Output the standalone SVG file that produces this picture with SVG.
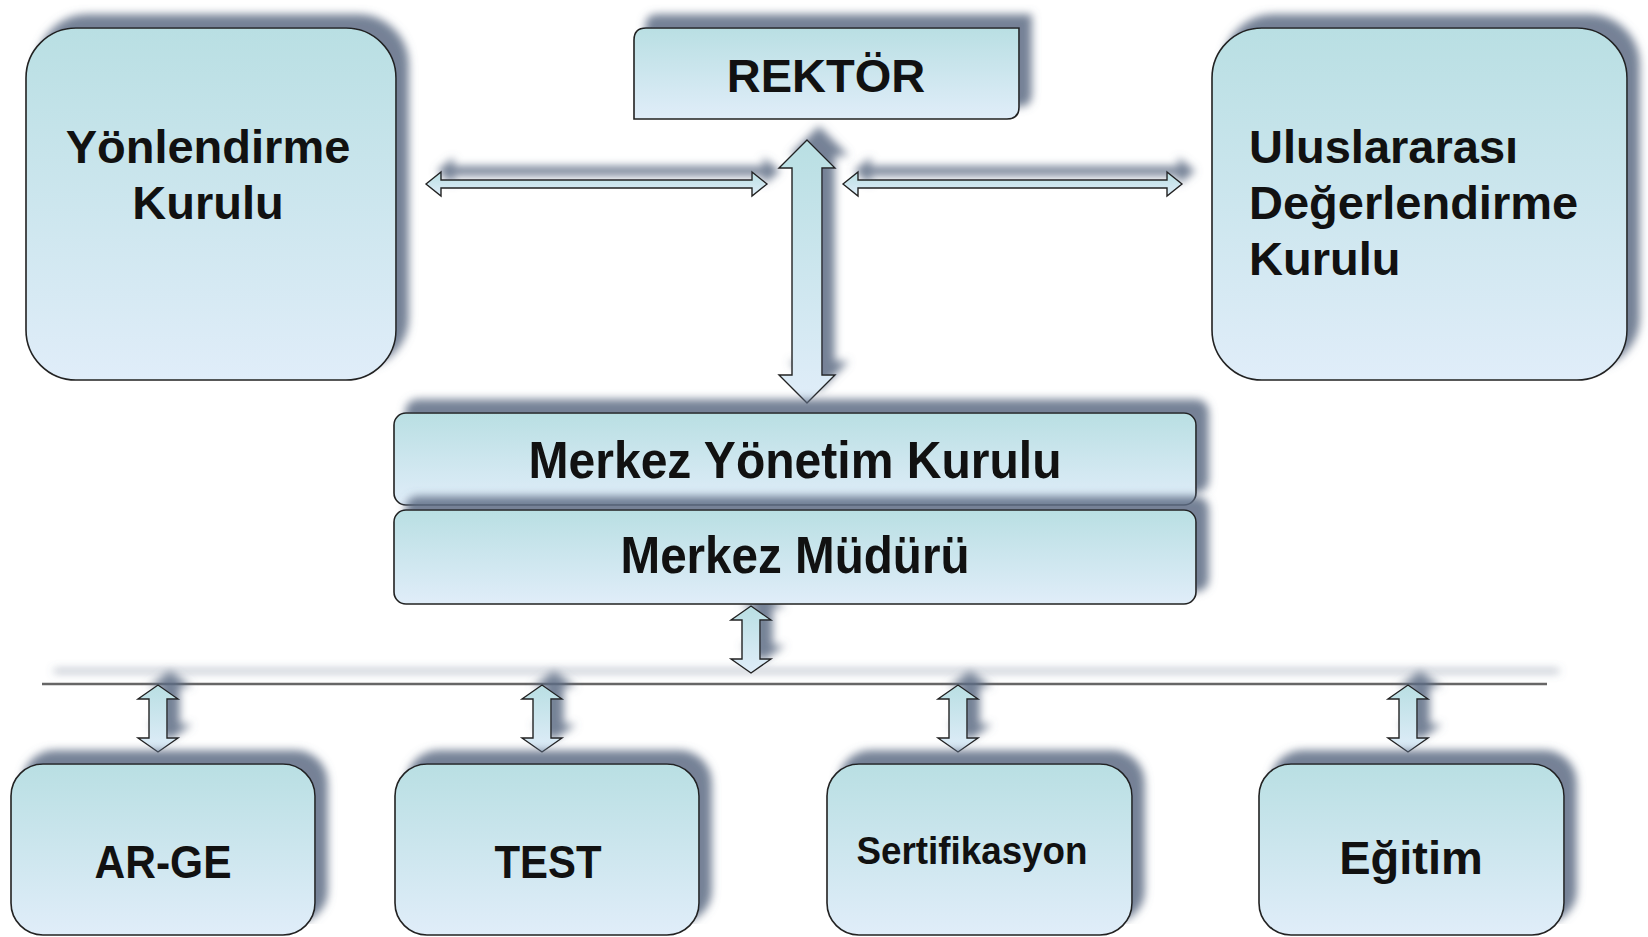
<svg xmlns="http://www.w3.org/2000/svg" width="1648" height="937" viewBox="0 0 1648 937">
<defs>
<linearGradient id="g" x1="0" y1="0" x2="0" y2="1">
<stop offset="0" stop-color="#b9dfe3"/>
<stop offset="1" stop-color="#e0edf9"/>
</linearGradient>
<filter id="sh" filterUnits="userSpaceOnUse" x="0" y="0" width="1648" height="937">
<feGaussianBlur in="SourceAlpha" stdDeviation="4" result="b"/>
<feOffset in="b" dx="12" dy="-13" result="o"/>
<feFlood flood-color="#5d6c84" flood-opacity="0.85"/>
<feComposite in2="o" operator="in" result="s"/>
<feMerge><feMergeNode in="s"/><feMergeNode in="SourceGraphic"/></feMerge>
</filter>
</defs>
<style>
.box{fill:url(#g);stroke:#222;stroke-width:1.6;filter:url(#sh)}
.arr{fill:url(#g);stroke:#222;stroke-width:1.4;stroke-linejoin:miter;filter:url(#sh)}
.t{font-family:"Liberation Sans",Arial,sans-serif;font-weight:bold;fill:#111}
.c{text-anchor:middle}
</style>
<rect width="1648" height="937" fill="#fff"/>

<g id="connectors">
<line x1="42" y1="684" x2="1547" y2="684" stroke="#666" stroke-width="2.5" filter="url(#sh)"/>
<!-- left horizontal double arrow -->
<path class="arr" d="M426,184 L441,172 L441,180 L752,180 L752,172 L767,184 L752,196 L752,188 L441,188 L441,196 Z"/>
<!-- right horizontal double arrow -->
<path class="arr" d="M843,184 L858,172 L858,180 L1167,180 L1167,172 L1182,184 L1167,196 L1167,188 L858,188 L858,196 Z"/>
<!-- big vertical double arrow -->
<path class="arr" d="M807,140 L835,168 L822,168 L822,375 L835,375 L807,403 L779,375 L792,375 L792,168 L779,168 Z"/>
<!-- Müdür to line -->
<path class="arr" d="M751,606 L771,620 L760,620 L760,659 L771,659 L751,673 L731,659 L742,659 L742,620 L731,620 Z"/>
<!-- bottom small arrows -->
<path class="arr" d="M158,685 L178,699 L167,699 L167,738 L178,738 L158,752 L138,738 L149,738 L149,699 L138,699 Z"/>
<path class="arr" d="M542,685 L562,699 L551,699 L551,738 L562,738 L542,752 L522,738 L533,738 L533,699 L522,699 Z"/>
<path class="arr" d="M958,685 L978,699 L967,699 L967,738 L978,738 L958,752 L938,738 L949,738 L949,699 L938,699 Z"/>
<path class="arr" d="M1408,685 L1428,699 L1417,699 L1417,738 L1428,738 L1408,752 L1388,738 L1399,738 L1399,699 L1388,699 Z"/>
</g>

<g id="yonlendirme">
<rect class="box" x="26" y="28" width="370" height="352" rx="50" ry="50"/>
<text class="t c" x="208" y="163" font-size="47">Yönlendirme</text>
<text class="t c" x="208" y="219" font-size="47">Kurulu</text>
</g>

<g id="rektor">
<path class="box" d="M646,28 L1019,28 L1019,107 Q1019,119 1007,119 L634,119 L634,40 Q634,28 646,28 Z"/>
<text class="t c" x="826" y="92" font-size="47">REKTÖR</text>
</g>

<g id="uluslararasi">
<rect class="box" x="1212" y="28" width="415" height="352" rx="50" ry="50"/>
<text class="t" x="1249" y="163" font-size="47">Uluslararası</text>
<text class="t" x="1249" y="219" font-size="47">Değerlendirme</text>
<text class="t" x="1249" y="275" font-size="47">Kurulu</text>
</g>

<g id="yonetim">
<rect class="box" x="394" y="413" width="802" height="92" rx="12" ry="12"/>
<text class="t c" x="795" y="478" font-size="52" textLength="533" lengthAdjust="spacingAndGlyphs">Merkez Yönetim Kurulu</text>
</g>

<g id="mudur">
<rect class="box" x="394" y="510" width="802" height="94" rx="12" ry="12"/>
<text class="t c" x="795" y="573" font-size="52" textLength="349" lengthAdjust="spacingAndGlyphs">Merkez Müdürü</text>
</g>

<g id="arge">
<rect class="box" x="11" y="764" width="304" height="171" rx="32" ry="32"/>
<text class="t c" x="163" y="878" font-size="46" textLength="137" lengthAdjust="spacingAndGlyphs">AR-GE</text>
</g>

<g id="test">
<rect class="box" x="395" y="764" width="304" height="171" rx="32" ry="32"/>
<text class="t c" x="548" y="878" font-size="46" textLength="107" lengthAdjust="spacingAndGlyphs">TEST</text>
</g>

<g id="sertifikasyon">
<rect class="box" x="827" y="764" width="305" height="171" rx="32" ry="32"/>
<text class="t c" x="972" y="864" font-size="39" textLength="231" lengthAdjust="spacingAndGlyphs">Sertifikasyon</text>
</g>

<g id="egitim">
<rect class="box" x="1259" y="764" width="305" height="171" rx="32" ry="32"/>
<text class="t c" x="1411" y="874" font-size="47">Eğitim</text>
</g>
</svg>
